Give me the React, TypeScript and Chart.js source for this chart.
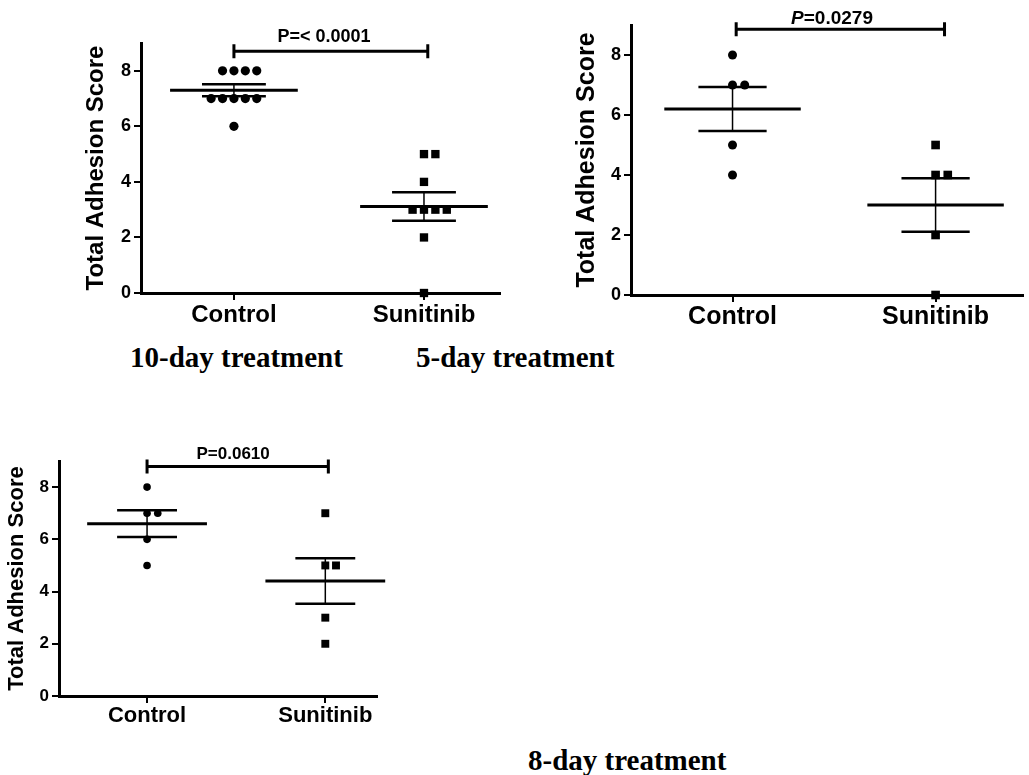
import React, { useEffect, useRef } from "react";
import { Chart, registerables } from "chart.js";

Chart.register(...registerables);

// ---------------- data ----------------
const categories = ["Control", "Sunitinib"];
const yTicks = [0, 2, 4, 6, 8];
const yTitle = "Total Adhesion Score";

// 10-day treatment
const control10 = [8, 8, 8, 8, 7, 7, 7, 7, 7, 6];
const control10Offsets = [-1, 0, 1, 2, -2, -1, 0, 1, 2, 0];
const sunitinib10 = [5, 5, 4, 3, 3, 3, 3, 2, 0];
const sunitinib10Offsets = [0, 1, 0, -1, 0, 1, 2, 0, 0];
const pPrefix10 = "P";
const pValue10 = "=< 0.0001";

// 5-day treatment
const control5 = [8, 7, 7, 5, 4];
const control5Offsets = [0, 0, 1, 0, 0];
const sunitinib5 = [5, 4, 4, 2, 0];
const sunitinib5Offsets = [0, 0, 1, 0, 0];
const pPrefix5 = "P";
const pValue5 = "=0.0279";

// 8-day treatment
const control8 = [8, 7, 7, 6, 5];
const control8Offsets = [0, 0, 1, 0, 0];
const sunitinib8 = [7, 5, 5, 3, 2];
const sunitinib8Offsets = [0, 0, 1, 0, 0];
const pPrefix8 = "P";
const pValue8 = "=0.0610";

const panelTitles = ["10-day treatment", "5-day treatment", "8-day treatment"];

// ---------------- style ----------------
const SANS = "'Liberation Sans', Arial, Helvetica, sans-serif";
const SERIF = "'Liberation Serif', 'Times New Roman', serif";
const OFFSET_STEP = 0.06;
const MEAN_HALF = 0.336;
const SEM_HALF = 0.168;

function mean(a: number[]) {
  return a.reduce((s, v) => s + v, 0) / a.length;
}
function sem(a: number[]) {
  const m = mean(a);
  const v = a.reduce((s, x) => s + (x - m) * (x - m), 0) / (a.length - 1);
  return Math.sqrt(v) / Math.sqrt(a.length);
}

const bracketPlugin = {
  id: "pBracket",
  afterDraw(chart: any, _args: any, opts: any) {
    if (!opts || !opts.value) return;
    const { ctx } = chart;
    const xs = chart.scales.x;
    const ys = chart.scales.y;
    const x1 = xs.getPixelForValue(opts.x1);
    const x2 = xs.getPixelForValue(opts.x2);
    const y = ys.getPixelForValue(opts.y);
    ctx.save();
    ctx.strokeStyle = "#000";
    ctx.lineWidth = 3;
    ctx.beginPath();
    ctx.moveTo(x1, y);
    ctx.lineTo(x2, y);
    ctx.moveTo(x1, y - opts.cap);
    ctx.lineTo(x1, y + opts.cap);
    ctx.moveTo(x2, y - opts.cap);
    ctx.lineTo(x2, y + opts.cap);
    ctx.stroke();

    const fPrefix = `${opts.italic ? "italic " : ""}bold ${opts.size}px ${SANS}`;
    const fValue = `bold ${opts.size}px ${SANS}`;
    ctx.font = fPrefix;
    const w1 = ctx.measureText(opts.prefix).width;
    ctx.font = fValue;
    const w2 = ctx.measureText(opts.value).width;
    const cx = xs.getPixelForValue(opts.textX);
    const start = cx - (w1 + w2) / 2;
    const ty = y - opts.gap;
    ctx.fillStyle = "#000";
    ctx.textAlign = "left";
    ctx.textBaseline = "alphabetic";
    ctx.font = fPrefix;
    ctx.fillText(opts.prefix, start, ty);
    ctx.font = fValue;
    ctx.fillText(opts.value, start + w1, ty);
    ctx.restore();
  },
};

type Panel = {
  left: number;
  top: number;
  width: number;
  height: number;
  padTop: number;
  padRight: number;
  yAxisW: number;
  xAxisH: number;
  xMin: number;
  xMax: number;
  yTitleFont: number;
  yTickFont: number;
  xTickFont: number;
  xPad: number;
  circleR: number;
  rectR: number;
  control: number[];
  controlOffsets: number[];
  sunitinib: number[];
  sunitinibOffsets: number[];
  prefix: string;
  value: string;
  italic: boolean;
  pSize: number;
  pGap: number;
  bracketY: number;
  bracketX2: number;
  bracketX1: number;
  textX: number;
};

const panels: Panel[] = [
  {
    left: 82, top: 8, width: 428, height: 322, padTop: 35, padRight: 10,
    yAxisW: 59, xAxisH: 37, xMin: 0.511, xMax: 2.4,
    yTitleFont: 24, yTickFont: 18, xTickFont: 24, xPad: 1,
    circleR: 4.6, rectR: 5.9,
    control: control10, controlOffsets: control10Offsets,
    sunitinib: sunitinib10, sunitinibOffsets: sunitinib10Offsets,
    prefix: pPrefix10, value: pValue10, italic: false, pSize: 18, pGap: 9,
    bracketY: 8.7, bracketX1: 1.0, bracketX2: 2.02, textX: 1.474,
  },
  {
    left: 572, top: 0, width: 457, height: 335, padTop: 25, padRight: 4,
    yAxisW: 59, xAxisH: 40, xMin: 0.5, xMax: 2.43,
    yTitleFont: 25, yTickFont: 18, xTickFont: 25, xPad: 0,
    circleR: 4.5, rectR: 6.1,
    control: control5, controlOffsets: control5Offsets,
    sunitinib: sunitinib5, sunitinibOffsets: sunitinib5Offsets,
    prefix: pPrefix5, value: pValue5, italic: true, pSize: 19, pGap: 5,
    bracketY: 8.86, bracketX1: 1.018, bracketX2: 2.044, textX: 1.49,
  },
  {
    left: 4, top: 440, width: 383, height: 295, padTop: 21, padRight: 10,
    yAxisW: 55, xAxisH: 39, xMin: 0.506, xMax: 2.29,
    yTitleFont: 22, yTickFont: 17, xTickFont: 22, xPad: 0,
    circleR: 3.8, rectR: 5.6,
    control: control8, controlOffsets: control8Offsets,
    sunitinib: sunitinib8, sunitinibOffsets: sunitinib8Offsets,
    prefix: pPrefix8, value: pValue8, italic: false, pSize: 17, pGap: 7,
    bracketY: 8.79, bracketX1: 1.0, bracketX2: 2.017, textX: 1.483,
  },
];

function buildConfig(p: Panel): any {
  const datasets: any[] = [];
  const groups = [
    { values: p.control, offsets: p.controlOffsets, style: "circle", radius: p.circleR },
    { values: p.sunitinib, offsets: p.sunitinibOffsets, style: "rect", radius: p.rectR },
  ];
  groups.forEach((g, gi) => {
    const c = gi + 1;
    const m = mean(g.values);
    const s = sem(g.values);
    const line = (pts: { x: number; y: number }[], w: number) => ({
      data: pts,
      showLine: true,
      borderColor: "#000",
      borderWidth: w,
      pointRadius: 0,
      clip: false,
    });
    datasets.push(line([{ x: c - MEAN_HALF, y: m }, { x: c + MEAN_HALF, y: m }], 3));
    datasets.push(line([{ x: c - SEM_HALF, y: m + s }, { x: c + SEM_HALF, y: m + s }], 2.5));
    datasets.push(line([{ x: c - SEM_HALF, y: m - s }, { x: c + SEM_HALF, y: m - s }], 2.5));
    datasets.push(line([{ x: c, y: m - s }, { x: c, y: m + s }], 1.5));
    datasets.push({
      data: g.values.map((v, i) => ({ x: c + g.offsets[i] * OFFSET_STEP, y: v })),
      pointStyle: g.style,
      pointRadius: g.radius,
      backgroundColor: "#000",
      borderWidth: 0,
      showLine: false,
      clip: false,
    });
  });

  const grid = {
    display: true,
    drawOnChartArea: false,
    drawTicks: true,
    tickLength: 7,
    lineWidth: 2,
    color: "#000",
  };
  const border = { display: true, color: "#000", width: 3 };

  return {
    type: "scatter",
    data: { datasets },
    plugins: [bracketPlugin],
    options: {
      responsive: false,
      animation: false,
      devicePixelRatio: 1,
      events: [],
      layout: { padding: { top: p.padTop, right: p.padRight, bottom: 0, left: 0 } },
      plugins: {
        legend: { display: false },
        tooltip: { enabled: false },
        pBracket: {
          x1: p.bracketX1,
          x2: p.bracketX2,
          y: p.bracketY,
          cap: 7,
          prefix: p.prefix,
          value: p.value,
          italic: p.italic,
          size: p.pSize,
          gap: p.pGap,
          textX: p.textX,
        },
      },
      scales: {
        x: {
          type: "linear",
          min: p.xMin,
          max: p.xMax,
          afterBuildTicks: (s: any) => {
            s.ticks = categories.map((_, i) => ({ value: i + 1 }));
          },
          afterFit: (s: any) => {
            s.height = p.xAxisH;
          },
          ticks: {
            callback: (v: any) => categories[Math.round(Number(v)) - 1] ?? "",
            color: "#000",
            font: { family: SANS, weight: "bold", size: p.xTickFont },
            padding: p.xPad,
            maxRotation: 0,
            minRotation: 0,
            autoSkip: false,
          },
          grid,
          border,
        },
        y: {
          type: "linear",
          min: 0,
          max: 9,
          afterBuildTicks: (s: any) => {
            s.ticks = yTicks.map((v) => ({ value: v }));
          },
          afterFit: (s: any) => {
            s.width = p.yAxisW;
          },
          ticks: {
            color: "#000",
            font: { family: SANS, weight: "bold", size: p.yTickFont },
            padding: 3,
          },
          grid,
          border,
          title: {
            display: true,
            text: yTitle,
            color: "#000",
            font: { family: SANS, weight: "bold", size: p.yTitleFont },
            padding: 0,
          },
        },
      },
    },
  };
}

function PanelChart({ p }: { p: Panel }) {
  const ref = useRef<HTMLCanvasElement | null>(null);
  useEffect(() => {
    if (!ref.current) return;
    const chart = new Chart(ref.current, buildConfig(p));
    return () => chart.destroy();
  }, [p]);
  return (
    <canvas
      ref={ref}
      width={p.width}
      height={p.height}
      style={{ position: "absolute", left: p.left, top: p.top, width: p.width, height: p.height }}
    />
  );
}

const titleStyle = (left: number, top: number): React.CSSProperties => ({
  position: "absolute",
  left,
  top,
  font: `bold 29px ${SERIF}`,
  lineHeight: "29px",
  whiteSpace: "nowrap",
  color: "#000",
});

export default function App() {
  return (
    <div
      style={{
        position: "absolute",
        left: 0,
        top: 0,
        width: 1029,
        height: 775,
        background: "#fff",
        overflow: "hidden",
      }}
    >
      {panels.map((p, i) => (
        <PanelChart key={i} p={p} />
      ))}
      <div style={titleStyle(130, 343)}>{panelTitles[0]}</div>
      <div style={titleStyle(416, 343)}>{panelTitles[1]}</div>
      <div style={titleStyle(528, 746)}>{panelTitles[2]}</div>
    </div>
  );
}
